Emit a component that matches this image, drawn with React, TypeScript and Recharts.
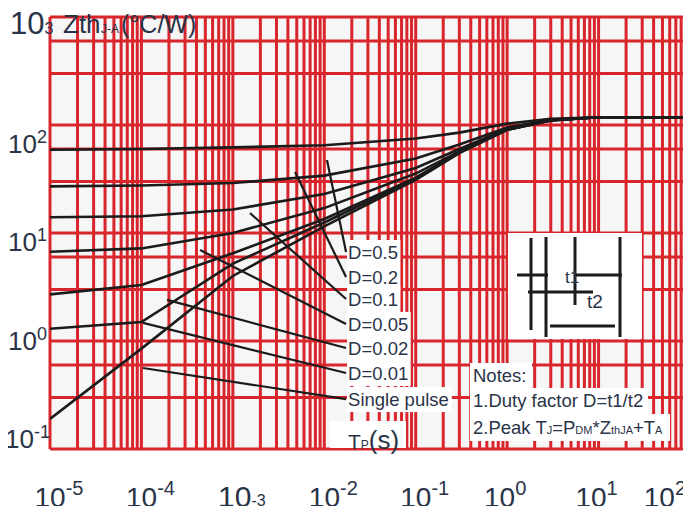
import React from "react";
import { LineChart, Line, XAxis, YAxis, CartesianGrid, LabelList } from "recharts";

const FONT = "'Liberation Sans', Arial, Helvetica, sans-serif";
const RED = "#d9262c";
const INK = "#1b1b1b";
const TXT = "#2a3347";

// pulse width tp (s)
const timeValues = [1e-5, 1e-4, 1e-3, 1e-2, 1e-1, 0.3, 1, 3, 10, 100];
// Zth J-A (°C/W) per duty cycle
const zD05 = [59, 60, 62, 65, 75, 85, 103, 114, 118, 118];
const zD02 = [27, 27.5, 29, 34, 49, 66, 95, 112, 118, 118];
const zD01 = [14, 14.3, 16.5, 23, 40, 60, 92, 111, 118, 118];
const zD005 = [6.7, 7.2, 10, 17, 35.5, 57, 91, 110.5, 118, 118];
const zD002 = [2.7, 3.3, 6.5, 13.5, 32.5, 56, 90.5, 110, 118, 118];
const zD001 = [1.3, 1.5, 5.2, 12.5, 31.8, 55.5, 90.2, 110, 118, 118];
const zSingle = [0.19, 0.85, 4.0, 11.5, 31, 55, 90, 110, 118, 118];

const curveKeys = ["d05", "d02", "d01", "d005", "d002", "d001", "single"];
const curveValues = [zD05, zD02, zD01, zD005, zD002, zD001, zSingle];

// leader lines to the labels
const legendLabels = ["D=0.5", "D=0.2", "D=0.1", "D=0.05", "D=0.02", "D=0.01", "Single pulse"];
const leaderStartT = [0.0107, 0.00479, 0.00154, 4.38e-4, 1.91e-4, 1.04e-4, 1.04e-4];
const leaderStartZ = [47.4, 36.7, 15.3, 6.96, 2.4, 1.47, 0.562];
const leaderEndT = [0.0173, 0.0173, 0.0173, 0.0173, 0.0173, 0.0173, 0.0173];
const leaderEndZ = [6.67, 3.91, 2.45, 1.44, 0.861, 0.506, 0.29];

// axis ticks
const xTickValues = [1e-5, 1e-4, 1e-3, 1e-2, 1e-1, 1, 10, 100];
const xTickExps = ["-5", "-4", "-3", "-2", "-1", "0", "1", "2"];
const xTickStyles = ["sup", "sup", "sub", "sup", "sup", "sup", "sup", "sup"];
const yTickValues = [0.1, 1, 10, 100];
const yTickExps = ["-1", "0", "1", "2"];

const xDecades = [-5, -4, -3, -2, -1, 0, 1];
const yDecades = [-1, 0, 1, 2];
const mantissas = [1, 2, 3, 4, 5, 6, 7, 8, 9];

const gridX: number[] = [];
xDecades.forEach((k) => mantissas.forEach((m) => gridX.push(m * Math.pow(10, k))));
gridX.push(100);
const gridY: number[] = [];
yDecades.forEach((k) => mantissas.forEach((m) => gridY.push(m * Math.pow(10, k))));
gridY.push(1000);

const chartData = timeValues.map((t, i) => {
  const row: any = { t };
  curveKeys.forEach((k, j) => (row[k] = curveValues[j][i]));
  return row;
});

const leaderData = legendLabels.map((_, i) => [
  { t: leaderStartT[i], z: leaderStartZ[i] },
  { t: leaderEndT[i], z: leaderEndZ[i] },
]);

const CW: Record<string, number> = { "-": 0.333, ".": 0.278 };
const strW = (s: string) => s.split("").reduce((a, c) => a + (CW[c] ?? 0.556), 0);

const findIdx = (arr: number[], v: number) =>
  arr.findIndex((a) => Math.abs(Math.log10(a) - Math.log10(v)) < 1e-6);

const XTick = (props: any) => {
  const { x, y, payload } = props;
  const i = findIdx(xTickValues, payload.value);
  if (i < 0) return null;
  const exp = xTickExps[i];
  const sub = xTickStyles[i] === "sub";
  const fb = sub ? 30 : 28;
  const fe = sub ? 16 : 20;
  const wb = 1.112 * fb;
  const we = strW(exp) * fe;
  const w = wb + we;
  const cx = x + (exp.startsWith("-") ? 9 : -2);
  let start = cx - w / 2;
  if (start + w > 686) start = 686 - w;
  const base = y + 50;
  const shift = sub ? -1 : -12;
  return (
    <text x={start} y={base} fontSize={fb} fontFamily={FONT} fill={TXT}>
      10<tspan fontSize={fe} dy={shift}>{exp}</tspan>
    </text>
  );
};

const YTick = (props: any) => {
  const { y, payload } = props;
  const i = findIdx(yTickValues, payload.value);
  if (i < 0) return null;
  const exp = yTickExps[i];
  const right = exp.startsWith("-") ? 50 : 47;
  const base = y + 10;
  return (
    <text x={right} y={base} textAnchor="end" fontSize={26} fontFamily={FONT} fill={TXT}>
      10<tspan fontSize={18} dy={-10}>{exp}</tspan>
    </text>
  );
};

const makeLabel = (label: string) => (p: any) => {
  if (p.index !== 1) return null;
  const fs = 18.5;
  const w = label === "Single pulse" ? 5.447 * fs : (strW(label) + 0.166) * fs;
  return (
    <g>
      <rect x={p.x + 1} y={p.y - 12} width={w + 4} height={25} fill="#ffffff" />
      <text x={p.x + 2} y={p.y + 7} fontSize={fs} fontFamily={FONT} fill={TXT}>{label}</text>
    </g>
  );
};

const Overlay = () => (
  <svg width={691} height={514} style={{ position: "absolute", left: 0, top: 0, pointerEvents: "none" }}>
    {/* title */}
    <text x={10} y={34} fontSize={31} fontFamily={FONT} fill={TXT}>
      10<tspan fontSize={16}>3</tspan>
    </text>
    <text x={63} y={33} fontSize={26} fontFamily={FONT} fill={TXT}>Zth</text>
    <text x={101} y={33} fontSize={12} fontFamily={FONT} fill={TXT}>J-A</text>
    <text x={121} y={33} fontSize={25} fontFamily={FONT} fill={TXT}>(°C/W)</text>

    {/* pulse inset */}
    <rect x={508} y={233} width={134} height={106} fill="#ffffff" />
    <g stroke={INK} strokeWidth={3}>
      <line x1={531} y1={238} x2={531} y2={330} />
      <line x1={546} y1={237} x2={546} y2={337} />
      <line x1={575} y1={237} x2={575} y2={305} />
      <line x1={620} y1={237} x2={620} y2={337} />
      <line x1={517} y1={275} x2={548} y2={275} />
      <line x1={575} y1={275} x2={622} y2={275} />
      <line x1={528} y1={292} x2={593} y2={292} />
      <line x1={550} y1={326} x2={615} y2={326} />
    </g>
    <text x={565} y={283} fontSize={17} fontFamily={FONT} fill={TXT}>t1</text>
    <text x={587} y={308} fontSize={19} fontFamily={FONT} fill={TXT}>t2</text>

    {/* notes */}
    <rect x={470} y={363} width={62} height={26} fill="#ffffff" />
    <rect x={470} y={388} width={178} height={27} fill="#ffffff" />
    <rect x={470} y={414} width={200} height={27} fill="#ffffff" />
    <text x={473} y={382} fontSize={18.5} fontFamily={FONT} fill={TXT}>Notes:</text>
    <text x={473} y={407} fontSize={18.5} fontFamily={FONT} fill={TXT}>1.Duty factor D=t1/t2</text>
    <text x={473} y={434} fontSize={18.5} fontFamily={FONT} fill={TXT}>
      2.Peak T<tspan fontSize={11}>J</tspan>=P<tspan fontSize={11}>DM</tspan>*Z<tspan fontSize={11}>thJA</tspan>+T<tspan fontSize={11}>A</tspan>
    </text>

    {/* x axis title */}
    <rect x={330} y={421} width={76} height={27} fill="#ffffff" />
    <text x={348} y={449} fontSize={21} fontFamily={FONT} fill={TXT}>
      T<tspan fontSize={12}>P</tspan><tspan fontSize={26}>(s)</tspan>
    </text>
  </svg>
);

export default function App() {
  return (
    <div style={{ position: "relative", width: 691, height: 514, margin: -8, background: "#ffffff" }}>
      <LineChart width={691} height={514} data={chartData} margin={{ top: 17, right: 1, bottom: 0, left: 0 }}>
        <CartesianGrid
          verticalValues={gridX}
          horizontalValues={gridY}
          stroke={RED}
          strokeWidth={3}
          strokeOpacity={1}
          fill="#f6f6f6"
          fillOpacity={1}
        />
        <XAxis
          dataKey="t"
          type="number"
          scale="log"
          domain={[1e-5, 100]}
          ticks={xTickValues}
          tick={<XTick />}
          tickLine={false}
          axisLine={false}
          height={65}
          interval={0}
          allowDataOverflow
        />
        <YAxis yAxisId={0} type="number" scale="log" domain={[0.1, 1000]} hide allowDataOverflow />
        <YAxis
          yAxisId="lab"
          type="number"
          scale="log"
          domain={[0.0773, 1914]}
          ticks={yTickValues}
          tick={<YTick />}
          width={50}
          tickLine={false}
          axisLine={false}
          interval={0}
          allowDataOverflow
        />
        {curveKeys.map((k) => (
          <Line
            key={k}
            dataKey={k}
            type="linear"
            stroke={INK}
            strokeWidth={2.6}
            dot={false}
            isAnimationActive={false}
          />
        ))}
        {leaderData.map((d, i) => (
          <Line
            key={"leader" + i}
            data={d}
            dataKey="z"
            type="linear"
            stroke={INK}
            strokeWidth={2.2}
            dot={false}
            isAnimationActive={false}
          >
            <LabelList dataKey="z" content={makeLabel(legendLabels[i])} />
          </Line>
        ))}
      </LineChart>
      <Overlay />
    </div>
  );
}
